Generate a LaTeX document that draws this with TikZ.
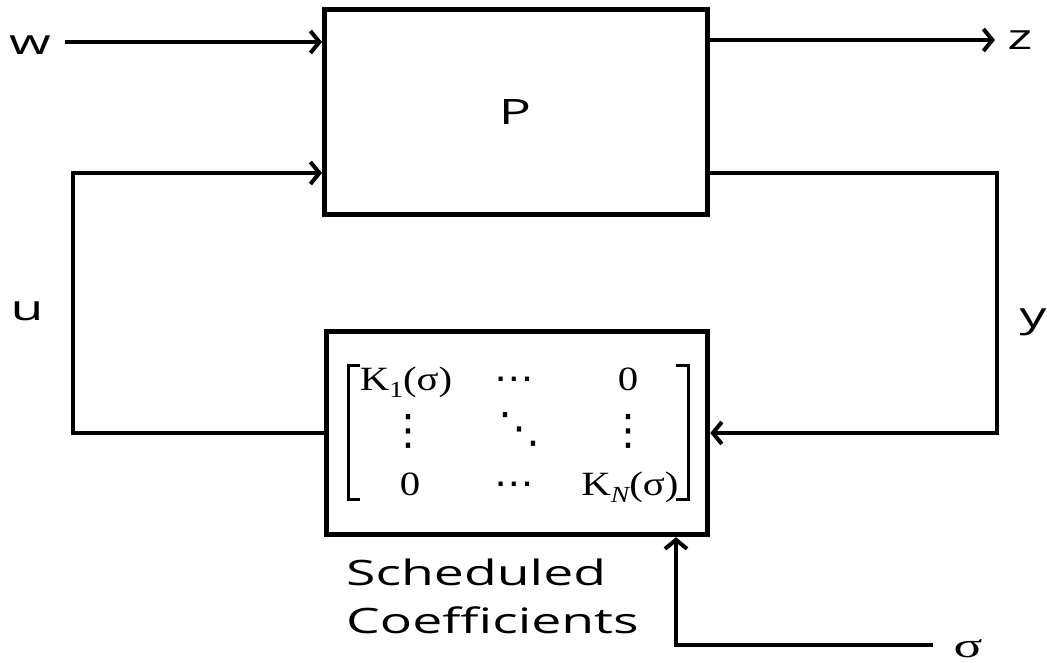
\documentclass[tikz,border=0pt]{standalone}
\usepackage{fontspec}
\setmainfont{Open Sans}
\newfontfamily\sigfont{Liberation Serif}
\newfontfamily\dotfont{DejaVu Sans}
\usetikzlibrary{arrows.meta}
\tikzset{
  blk/.style={draw=black, line width=5pt, rectangle, inner sep=0pt},
  wire/.style={line width=4.2pt, line join=miter},
  arr/.style={wire, -{Straight Barb[length=9pt,width=22pt,line width=4pt]}},
  lbl/.style={inner sep=0pt, anchor=base, font=\fontsize{35}{42}\selectfont},
  ent/.style={inner sep=0pt, anchor=base},
  brk/.style={line width=3pt}
}
\newcommand{\wide}[1]{\scalebox{1.53}[1]{#1}}
\newcommand{\mx}[1]{\scalebox{1.2}[1]{\fontsize{34}{40}\selectfont\sigfont #1}}
\newcommand{\md}[1]{\scalebox{1.1}[1]{\fontsize{36}{42}\selectfont\dotfont #1}}
\newcommand{\mv}[1]{\fontsize{42}{48}\selectfont\dotfont #1}
\newcommand{\sub}[1]{\raisebox{-0.22em}{\fontsize{23}{23}\selectfont #1}}
\begin{document}
\begin{tikzpicture}[x=1pt,y=-1pt]
\useasboundingbox (0,0) rectangle (1047,663);
% blocks
\node[blk, minimum width=383pt, minimum height=205pt] (P) at (516,112) {};
\node[blk, line width=5.5pt, minimum width=381pt, minimum height=203pt] (K) at (517,433) {};
\node[inner sep=0pt] (Pt) at (515,112) {\fontsize{35}{42}\selectfont\wide{P}};
% matrix
\draw[brk] (360,365) -- (348,365) -- (348,499) -- (360,499);
\draw[brk] (676,365) -- (688,365) -- (688,499) -- (676,499);
\node[ent] (m11) at (406,390) {\mx{K\sub{1}(σ)}};
\node[ent] (m12) at (514,390) {\md{⋯}};
\node[ent] (m13) at (628,390) {\mx{0}};
\node[ent] (m21) at (408,444) {\mv{⋮}};
\node[ent] (m22) at (519,442) {\mv{⋱}};
\node[ent] (m23) at (628,444) {\mv{⋮}};
\node[ent] (m31) at (410,495) {\mx{0}};
\node[ent] (m32) at (514,495) {\md{⋯}};
\node[ent] (m33) at (630,495) {\mx{K\sub{\itshape N}(σ)}};
% labels
\node[lbl] (w) at (30,55) {\wide{w}};
\node[lbl] (z) at (1020,50) {\wide{z}};
\node[lbl] (u) at (27,320) {\wide{u}};
\node[lbl] (y) at (1033,327) {\wide{y}};
\node[lbl] (s) at (968,657) {\wide{\sigfont σ}};
\node[lbl, anchor=base west] (sc1) at (346,585) {\wide{Scheduled}};
\node[lbl, anchor=base west] (sc2) at (346,633) {\wide{Coefficients}};
% coordinates
\coordinate (w0) at (65,42);
\coordinate (z1) at (995,40);
\coordinate (uL) at (73,433);
\coordinate (uT) at (73,173);
\coordinate (yR) at (997,173);
\coordinate (yB) at (997,433);
\coordinate (s0) at (933,645);
\coordinate (sC) at (676,645);
% connectors
\draw[arr] (w0) -- (w0 -| P.west);
\draw[arr] (z1 -| P.east) -- (z1);
\draw[arr] (uL -| K.west) -- (uL) -- (uT) -- (uT -| P.west);
\draw[arr] (yR -| P.east) -- (yR) -- (yB) -- (yB -| K.east);
\draw[arr] (s0) -- (sC) -- (sC |- K.south);
\end{tikzpicture}
\end{document}
